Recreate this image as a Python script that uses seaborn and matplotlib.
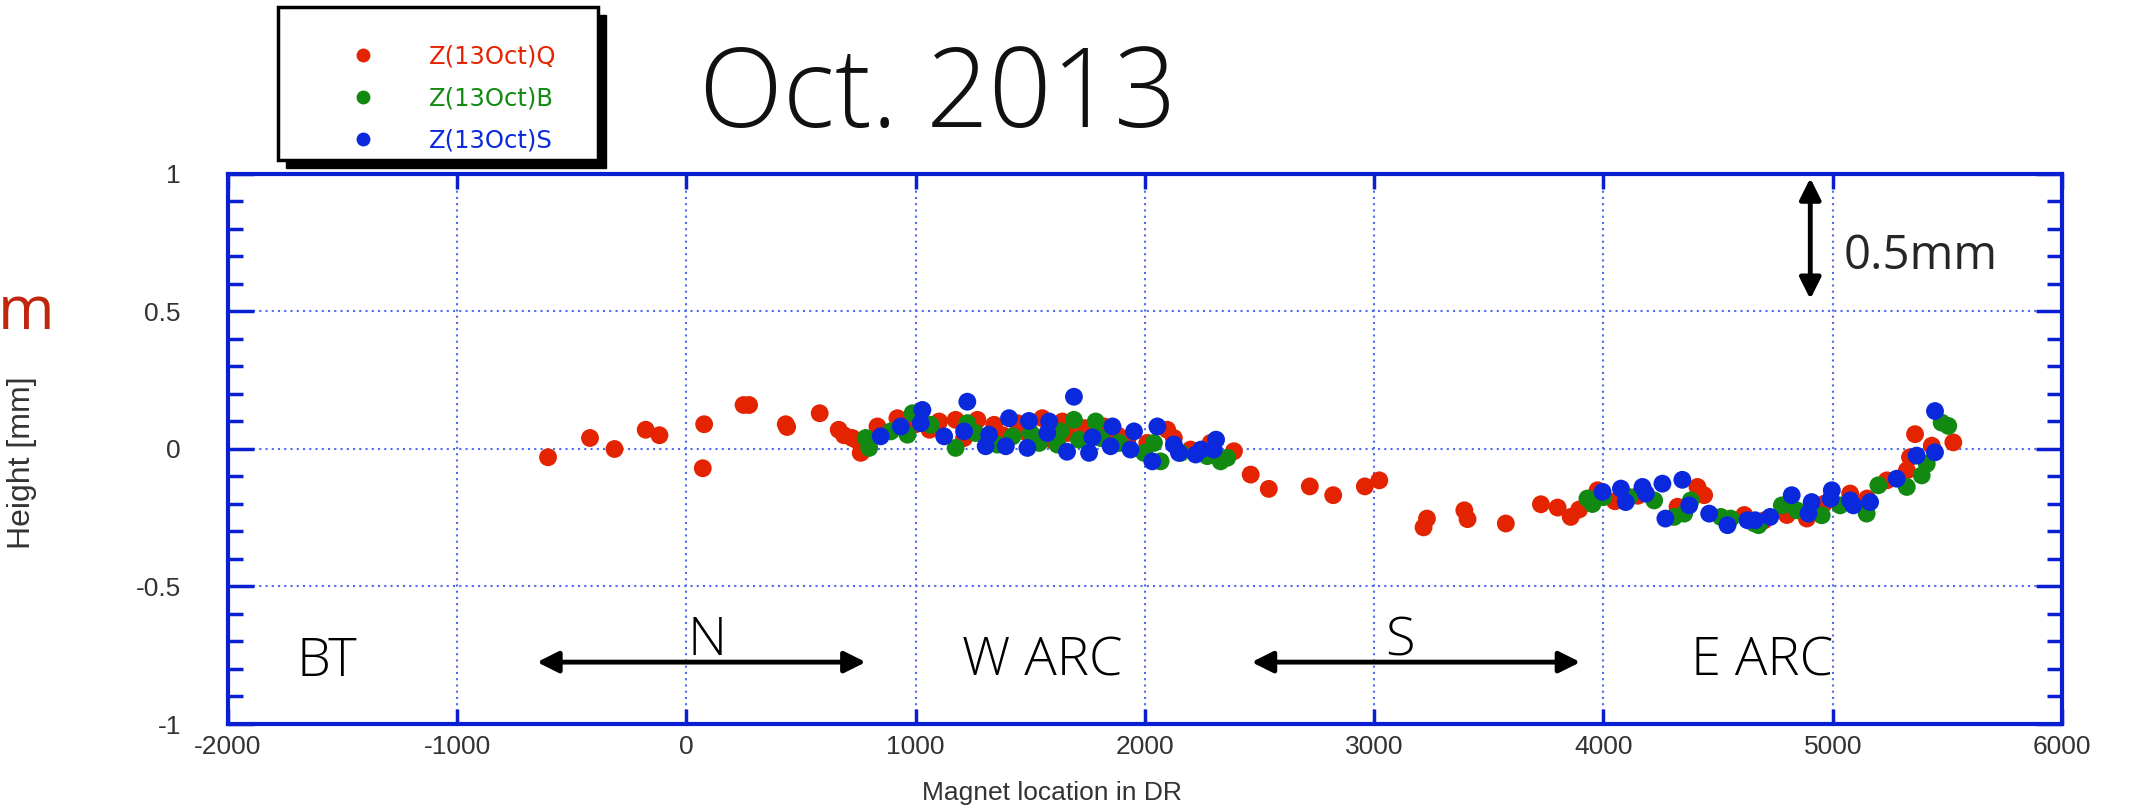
import numpy as np
import pandas as pd
import matplotlib
matplotlib.use("Agg")
import matplotlib.pyplot as plt
from matplotlib.lines import Line2D
from matplotlib.patches import Rectangle
from matplotlib.ticker import MultipleLocator
import seaborn as sns

# ---- data ------------------------------------------------------------------
q_x = [-604, -421, -314, -178, -118, 71, 77, 249, 273, 433, 439, 581, 664, 687, 723, 746, 764,
       760, 833, 920, 1000, 1060, 1102, 1174, 1211, 1269, 1342, 1380, 1443, 1473, 1552, 1600, 1640,
       1661, 1734, 1821, 1880, 1923, 2010, 2097, 2126, 2199, 2286, 2388, 2461, 2540,
       2719, 2821, 2959, 3022, 3215, 3230, 3393, 3407, 3574, 3727, 3800,
       3857, 3894, 3974, 4050, 4150, 4323, 4410, 4439, 4614, 4700, 4800, 4887, 4960,
       5076, 5150, 5236, 5323, 5337, 5359, 5432, 5526]
q_y = [-0.03, 0.04, 0.00, 0.07, 0.05, -0.07, 0.09, 0.16, 0.16, 0.09, 0.08, 0.13, 0.07, 0.05, 0.04, 0.03, -0.01,
       -0.014, 0.082, 0.112, 0.09, 0.07, 0.10, 0.106, 0.04, 0.106, 0.088, 0.05, 0.094, 0.064, 0.112, 0.03, 0.10,
       0.058, 0.076, 0.082, 0.05, 0.034, 0.022, 0.07, 0.04, -0.002, 0.022, -0.008, -0.093, -0.145,
       -0.136, -0.168, -0.136, -0.114, -0.285, -0.253, -0.223, -0.255, -0.271, -0.201, -0.213,
       -0.247, -0.22, -0.15, -0.19, -0.17, -0.21, -0.138, -0.168, -0.24, -0.26, -0.24, -0.253, -0.20,
       -0.162, -0.18, -0.114, -0.078, -0.03, 0.054, 0.012, 0.024]

b_x = [782, 797, 891, 964, 986, 1065, 1174, 1225, 1261, 1356, 1422, 1502, 1538, 1618, 1632,
       1690, 1712, 1785, 1807, 1887, 1996, 2039, 2068, 2156, 2272, 2330, 2359,
       3930, 3952, 4000, 4112, 4221, 4308, 4352, 4381, 4512, 4555, 4657,
       4676, 4778, 4843, 4952, 5032, 5148, 5199, 5323, 5388, 5410, 5475, 5504]
b_y = [0.04, 0.004, 0.064, 0.052, 0.13, 0.088, 0.004, 0.094, 0.058, 0.016, 0.046, 0.058, 0.022, 0.016, 0.064,
       0.106, 0.034, 0.10, 0.04, 0.022, -0.014, 0.022, -0.045, -0.014, -0.026, -0.045, -0.032,
       -0.18, -0.2, -0.175, -0.175, -0.187, -0.247, -0.235, -0.187, -0.247, -0.253, -0.27,
       -0.277, -0.205, -0.223, -0.241, -0.205, -0.235, -0.132, -0.138, -0.096, -0.054, 0.096, 0.084]

s_x = [847, 935, 1022, 1029, 1124, 1211, 1225, 1305, 1320, 1393, 1407, 1487, 1494, 1574, 1582, 1660, 1690,
       1756, 1771, 1850, 1858, 1937, 1952, 2032, 2054, 2126, 2148, 2221, 2245, 2300, 2310,
       3996, 4076, 4097, 4170, 4185, 4257, 4270, 4344, 4374, 4461, 4541, 4628,
       4661, 4727, 4821, 4894, 4908, 4991, 4996, 5076, 5090, 5163, 5279, 5366, 5446, 5446]
s_y = [0.046, 0.082, 0.094, 0.142, 0.046, 0.064, 0.172, 0.01, 0.052, 0.01, 0.112, 0.004, 0.102, 0.058, 0.10, -0.01, 0.19,
       -0.014, 0.042, 0.01, 0.082, -0.002, 0.064, -0.045, 0.082, 0.016, -0.014, -0.02, -0.002, -0.002, 0.034,
       -0.156, -0.144, -0.193, -0.138, -0.162, -0.126, -0.253, -0.112, -0.205, -0.235, -0.277, -0.259,
       -0.259, -0.247, -0.168, -0.235, -0.193, -0.181, -0.150, -0.187, -0.205, -0.193, -0.108, -0.024, -0.012, 0.138]

series_names = ["Z(13Oct)Q", "Z(13Oct)B", "Z(13Oct)S"]
series_colors = ["#e42400", "#128a12", "#0a28dc"]

x_ticks = [-2000, -1000, 0, 1000, 2000, 3000, 4000, 5000, 6000]
y_ticks = [-1, -0.5, 0, 0.5, 1]
y_ticklabels = ["-1", "-0.5", "0", "0.5", "1"]

regions = ["BT", "N", "W ARC", "S", "E ARC"]
region_x = [-1570, 89, 1553, 3111, 4693]
region_y = [-0.775, -0.70, -0.775, -0.70, -0.775]

FRAME = "#0a1ed2"
GRID = "#4f6cf0"
LIGHT = "Open Sans"

df = pd.concat([
    pd.DataFrame({"x": q_x, "y": q_y, "series": series_names[0]}),
    pd.DataFrame({"x": b_x, "y": b_y, "series": series_names[1]}),
    pd.DataFrame({"x": s_x, "y": s_y, "series": series_names[2]}),
], ignore_index=True)

sns.set_theme(style="white")
plt.rcParams["font.family"] = ["Liberation Sans", "DejaVu Sans"]

fig = plt.figure(figsize=(21.3, 8.07), dpi=100)
ax = fig.add_axes([0.10704, 0.10285, 0.86103, 0.68154])

sns.scatterplot(data=df, x="x", y="y", hue="series", hue_order=series_names,
                palette=series_colors, s=165, linewidth=0, legend=False, ax=ax, zorder=3)

ax.set_xlim(-2000, 6000)
ax.set_ylim(-1, 1)
ax.set_xticks(x_ticks)
ax.set_xticklabels([str(v) for v in x_ticks])
ax.set_yticks(y_ticks)
ax.set_yticklabels(y_ticklabels)
ax.yaxis.set_minor_locator(MultipleLocator(0.1))

for sp in ax.spines.values():
    sp.set_color(FRAME)
    sp.set_linewidth(3)
    sp.set_visible(True)

ax.grid(True, which="major", color=GRID, linestyle=(0, (1, 2)), linewidth=1.5)
ax.tick_params(axis="x", which="major", direction="in", length=11, width=2.5, color=FRAME,
               top=True, bottom=True, labelsize=19, labelcolor="#333333", pad=8)
ax.tick_params(axis="y", which="major", direction="in", length=19, width=2.5, color=FRAME,
               left=True, right=True, labelsize=19, labelcolor="#333333", pad=34)
ax.tick_params(axis="y", which="minor", direction="in", length=11, width=2.5, color=FRAME,
               left=True, right=True)

ax.set_xlabel("Magnet location in DR", fontsize=19, color="#333333")
ax.set_ylabel("Height [mm]", fontsize=23, color="#333333")
ax.xaxis.set_label_coords(0.449, -0.103)
ax.yaxis.set_label_coords(-0.104, 0.476)

# region labels and arrows
for name, rx, ry in zip(regions, region_x, region_y):
    ax.text(rx, ry, name, fontsize=39, family=LIGHT, fontweight="light",
            ha="center", va="center", color="black", zorder=4)
arrow_kw = dict(arrowstyle="<|-|>", color="black", lw=3.5, mutation_scale=32,
                shrinkA=0, shrinkB=0)
ax.annotate("", xy=(-652, -0.775), xytext=(782, -0.775), arrowprops=arrow_kw)
ax.annotate("", xy=(2465, -0.775), xytext=(3899, -0.775), arrowprops=arrow_kw)
ax.annotate("", xy=(4902, 0.985), xytext=(4902, 0.545), arrowprops=arrow_kw,
            annotation_clip=False)
ax.text(5046, 0.653, "0.5mm", fontsize=34, family=LIGHT, ha="left", va="baseline")

# title and stray label at the left edge
fig.text(0.4405, 0.878, "Oct. 2013", fontsize=79, family=LIGHT, fontweight="light",
         ha="center", va="center", color="#111111")
fig.text(0.0255, 0.592, "m", fontsize=44, family=LIGHT, color="#c0250e",
         ha="right", va="baseline")

# legend box with black drop shadow
bx, by, bw, bh = 278 / 2130, 1 - 160 / 807, 320 / 2130, 153 / 807
fig.patches.append(Rectangle((bx + 8 / 2130, by - 8 / 807), bw, bh, transform=fig.transFigure,
                             facecolor="black", edgecolor="black", zorder=1))
fig.patches.append(Rectangle((bx, by), bw, bh, transform=fig.transFigure,
                             facecolor="white", edgecolor="black", linewidth=2.5, zorder=2))
handles = [Line2D([], [], marker="o", linestyle="", markersize=10, color=c,
                  markeredgewidth=0) for c in series_colors]
leg = fig.legend(handles, series_names, loc="upper left", bbox_to_anchor=(0.1648, 0.945),
                 frameon=False, handlelength=1.0, handletextpad=2.2,
                 labelspacing=0.75, borderpad=0, borderaxespad=0,
                 prop={"family": "DejaVu Sans", "size": 17.5})
leg.set_zorder(5)
for txt, c in zip(leg.get_texts(), series_colors):
    txt.set_color(c)

fig.savefig("out.png", dpi=100)
